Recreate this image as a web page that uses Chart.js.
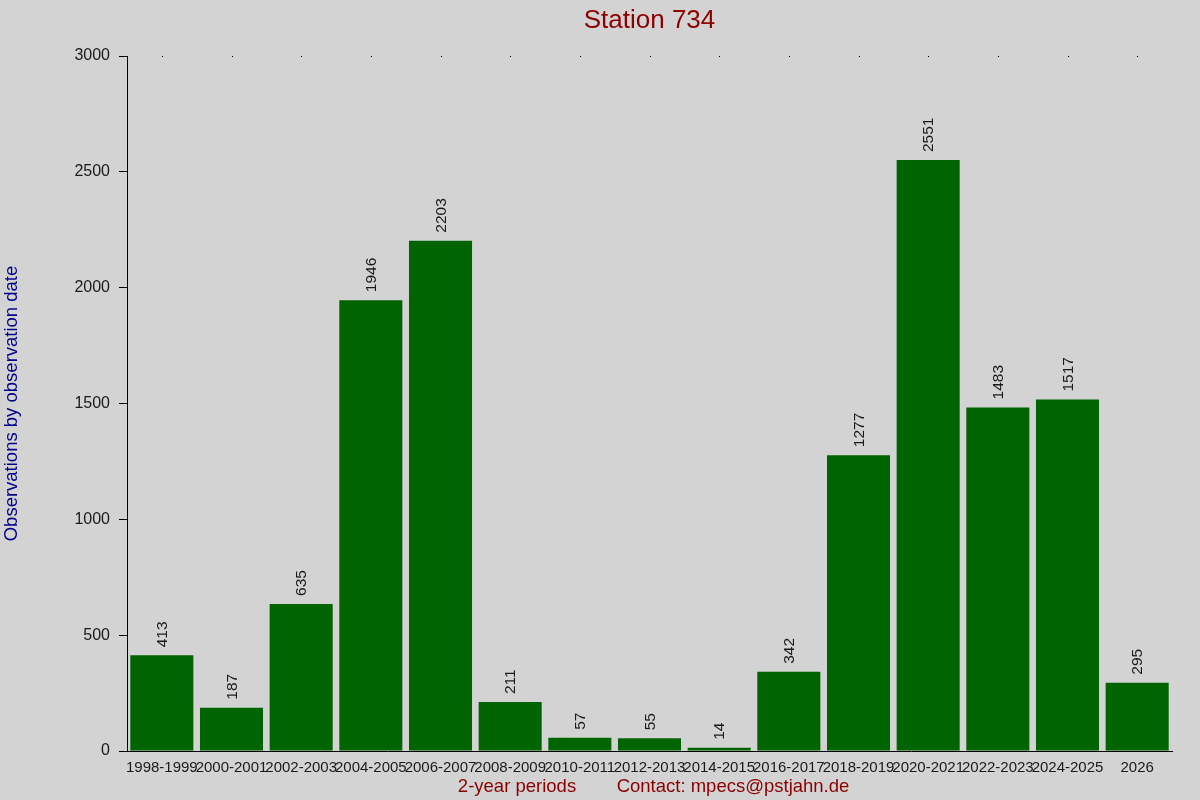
<!DOCTYPE html>
<html lang="en">
<head>
    <meta charset="UTF-8">
    <title>Station 734</title>
    <script src="https://cdn.jsdelivr.net/npm/chart.js"></script>
    <style>
        html, body { margin: 0; padding: 0; background: #d3d3d3; }
        #wrap { width: 1200px; height: 800px; }
    </style>
</head>
<body>
    <div id="wrap"><canvas id="stationChart" width="1200" height="800"></canvas></div>

    <script>
        // data
        const periods = ['1998-1999', '2000-2001', '2002-2003', '2004-2005', '2006-2007', '2008-2009', '2010-2011',
            '2012-2013', '2014-2015', '2016-2017', '2018-2019', '2020-2021', '2022-2023', '2024-2025', '2026'];
        const observations = [413, 187, 635, 1946, 2203, 211, 57, 55, 14, 342, 1277, 2551, 1483, 1517, 295];
        const yTicks = [0, 500, 1000, 1500, 2000, 2500, 3000];

        const chartTitle = 'Station 734';
        const yTitle = 'Observations by observation date';
        const xTitle = '2-year periods';
        const contactText = 'Contact: mpecs@pstjahn.de';

        const FONT = "'Liberation Sans', Arial, sans-serif";

        // titles, value labels and the little top dots
        const extrasPlugin = {
            id: 'extras',
            afterDatasetsDraw(chart) {
                const ctx = chart.ctx;
                const area = chart.chartArea;
                const xs = chart.scales.x;
                const meta = chart.getDatasetMeta(0);
                ctx.save();

                // value labels above bars
                ctx.fillStyle = '#1a1a1a';
                ctx.font = '15.5px ' + FONT;
                ctx.textAlign = 'left';
                ctx.textBaseline = 'middle';
                meta.data.forEach((bar, i) => {
                    ctx.save();
                    ctx.translate(bar.x + 1, bar.y - 8);
                    ctx.rotate(-Math.PI / 2);
                    ctx.fillText(String(observations[i]), 0, 0);
                    ctx.restore();
                });

                // dots along the top
                ctx.fillStyle = '#000';
                periods.forEach((p, i) => {
                    ctx.fillRect(Math.round(xs.getPixelForValue(i)), area.top, 1, 1);
                });

                // chart title
                ctx.fillStyle = '#8b0000';
                ctx.font = '26px ' + FONT;
                ctx.textAlign = 'center';
                ctx.textBaseline = 'alphabetic';
                ctx.fillText(chartTitle, (area.left + area.right) / 2, 28);

                // bottom texts
                ctx.font = '18.5px ' + FONT;
                ctx.fillText(xTitle, 517, 792);
                ctx.fillText(contactText, 733, 792);

                // y title
                ctx.fillStyle = '#00008b';
                ctx.save();
                ctx.translate(12, (area.top + area.bottom) / 2);
                ctx.rotate(-Math.PI / 2);
                ctx.textBaseline = 'middle';
                ctx.fillText(yTitle, 0, 0);
                ctx.restore();

                ctx.restore();
            }
        };

        const stationChart = new Chart(document.getElementById('stationChart'), {
            type: 'bar',
            data: {
                labels: periods,
                datasets: [{
                    label: 'Observations',
                    data: observations,
                    backgroundColor: '#006400',
                    borderWidth: 0,
                    barPercentage: 0.905,
                    categoryPercentage: 1.0
                }]
            },
            options: {
                responsive: false,
                devicePixelRatio: 1,
                animation: false,
                layout: { padding: { left: 0, right: 28, top: 56, bottom: 0 } },
                scales: {
                    x: {
                        grid: { display: false },
                        border: { display: true, color: '#000', width: 1 },
                        ticks: {
                            autoSkip: false,
                            maxRotation: 0,
                            minRotation: 0,
                            padding: 0,
                            color: '#1a1a1a',
                            font: { family: FONT, size: 15 }
                        },
                        afterFit(scale) { scale.height = 49; }
                    },
                    y: {
                        min: 0,
                        max: 3000,
                        afterBuildTicks(scale) { scale.ticks = yTicks.map(v => ({ value: v })); },
                        grid: { drawOnChartArea: false, color: '#000', tickLength: 8 },
                        border: { display: true, color: '#000', width: 1 },
                        ticks: {
                            padding: 9,
                            color: '#1a1a1a',
                            font: { family: FONT, size: 16 },
                            callback: v => String(v)
                        },
                        afterFit(scale) { scale.width = 127; }
                    }
                },
                plugins: {
                    legend: { display: false },
                    title: { display: false },
                    tooltip: { enabled: false }
                }
            },
            plugins: [extrasPlugin]
        });
    </script>
</body>
</html>
